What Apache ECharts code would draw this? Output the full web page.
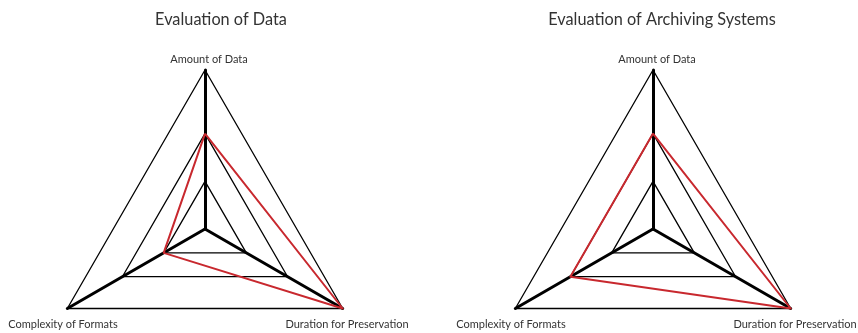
<!DOCTYPE html>
<html>
<head>
<meta charset="utf-8">
<script src="https://cdn.jsdelivr.net/npm/echarts@6/dist/echarts.min.js"></script>
<style>html,body{margin:0;padding:0;background:#fff}#c{width:858px;height:333px}</style>
</head>
<body>
<div id="c"></div>
<script>
// ---- data ----
const titles = ['Evaluation of Data', 'Evaluation of Archiving Systems'];
const indicatorNames = ['Amount of Data', 'Complexity of Formats', 'Duration for Preservation'];
const maxValue = 10;
const levelValues = [3, 6, 10];
const dataEvaluation = [6, 3, 10];
const archivingEvaluation = [6, 6, 10];
const seriesValues = [dataEvaluation, archivingEvaluation];

const FONT = 'Lato';
const chart = echarts.init(document.getElementById('c'), null, {renderer: 'canvas'});

const centers = [[205, 229], [653, 229]];
const titleX = [216, 657];

function makeIndicators() {
  return indicatorNames.map((n, i) => {
    const ind = {name: n, max: maxValue, min: 0};
    if (i > 0) {
      ind.nameTextStyle = {align: 'center', verticalAlign: 'top', padding: [8, 0, 0, 0]};
    } else {
      ind.nameTextStyle = {padding: [0, 0, 0, 8]};
    }
    return ind;
  });
}

const radar = centers.map(c => ({
  center: c,
  radius: 159,
  startAngle: 90,
  shape: 'polygon',
  splitNumber: 1,
  indicator: makeIndicators(),
  nameGap: 5,
  axisName: {color: '#333', fontSize: 11, fontFamily: FONT},
  axisLine: {lineStyle: {color: '#000', width: 3}},
  splitLine: {show: false},
  splitArea: {show: false},
  axisTick: {show: false},
  axisLabel: {show: false}
}));

const series = [];
seriesValues.forEach((vals, ri) => {
  series.push({
    type: 'radar',
    radarIndex: ri,
    symbol: 'none',
    silent: true,
    z: 1,
    lineStyle: {color: '#000', width: 1.3},
    data: levelValues.map(v => ({value: indicatorNames.map(() => v)}))
  });
  series.push({
    type: 'radar',
    radarIndex: ri,
    symbol: 'none',
    silent: true,
    z: 3,
    lineStyle: {color: '#c8282e', width: 2},
    data: [{value: vals}]
  });
});

chart.setOption({
  animation: false,
  title: titles.map((t, i) => ({
    text: t, left: titleX[i], top: 7, textAlign: 'center',
    textStyle: {fontFamily: FONT, fontSize: 16.3, fontWeight: 'normal', color: '#333'}
  })),
  radar: radar,
  series: series
});
</script>
</body>
</html>
